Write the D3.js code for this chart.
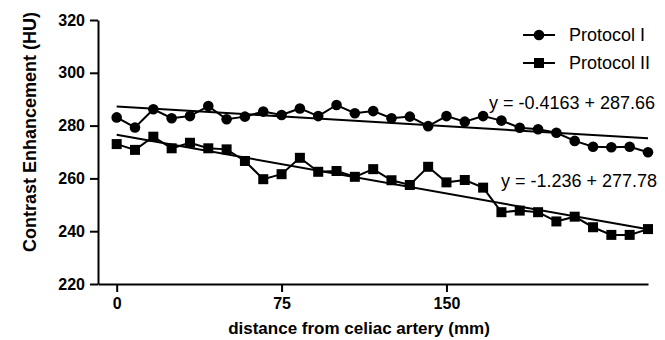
<!DOCTYPE html>
<meta charset="utf-8">
<style>
body { margin: 0; background: #fff; }
svg { font-family: "Liberation Sans", Arial, sans-serif; }
.axis path, .axis line { fill: none; stroke: #000; stroke-width: 2px; }
.axis text { font-size: 16px; font-weight: bold; fill: #000; }
</style>
<body>
<script src="https://cdn.jsdelivr.net/npm/d3@7"></script>
<script>
// distance from celiac artery (mm), one reading per segment
var distance = [0, 8.33, 16.67, 25, 33.33, 41.67, 50, 58.33, 66.67, 75,
  83.33, 91.67, 100, 108.33, 116.67, 125, 133.33, 141.67, 150, 158.33,
  166.67, 175, 183.33, 191.67, 200, 208.33, 216.67, 225, 233.33, 241.67];

var protocol1 = [283.1, 279.3, 286.2, 282.8, 283.6, 287.4, 282.4, 283.4, 285.3, 284.0,
  286.5, 283.6, 287.8, 284.7, 285.5, 282.8, 283.4, 279.8, 283.6, 281.5,
  283.6, 281.9, 279.2, 278.6, 277.3, 274.2, 272.0, 271.8, 272.0, 269.9];

var protocol2 = [273.0, 270.8, 275.8, 271.4, 273.5, 271.4, 271.0, 266.6, 259.7, 261.6,
  267.8, 262.5, 262.8, 260.6, 263.5, 259.3, 257.5, 264.4, 258.5, 259.4,
  256.5, 247.2, 247.8, 247.2, 243.7, 245.5, 241.5, 238.6, 238.6, 240.8];

// linear fits as printed on the chart (x = segment number 1..30)
var fit1 = {slope: -0.4163, intercept: 287.66, label: "y = -0.4163 + 287.66"};
var fit2 = {slope: -1.236, intercept: 277.78, label: "y = -1.236 + 277.78"};

var seriesNames = ["Protocol I", "Protocol II"];
var yTicks = [220, 240, 260, 280, 300, 320];
var xTicks = [0, 75, 150];

var width = 665, height = 340;

var svg = d3.select("body").append("svg")
    .attr("width", width)
    .attr("height", height);

var x = d3.scaleLinear().domain([-8.5, 241.67]).range([98, 648]);
var y = d3.scaleLinear().domain([220, 320]).range([284, 20]);

svg.append("g")
    .attr("class", "axis")
    .attr("transform", "translate(98,0)")
    .call(d3.axisLeft(y).tickValues(yTicks).tickSize(8).tickSizeOuter(0).tickPadding(5));

svg.append("g")
    .attr("class", "axis")
    .attr("transform", "translate(0,284)")
    .call(d3.axisBottom(x).tickValues(xTicks).tickSize(8).tickSizeOuter(0).tickPadding(6));

svg.append("text")
    .attr("x", 359)
    .attr("y", 334)
    .attr("text-anchor", "middle")
    .style("font-size", "17px")
    .style("font-weight", "bold")
    .text("distance from celiac artery (mm)");

svg.append("text")
    .attr("transform", "translate(36,132) rotate(-90)")
    .attr("text-anchor", "middle")
    .style("font-size", "18px")
    .style("font-weight", "bold")
    .text("Contrast Enhancement (HU)");

var line = d3.line()
    .x(function(d, i) { return x(distance[i]); })
    .y(function(d) { return y(d); });

function drawFit(f) {
  var n = distance.length;
  svg.append("line")
      .attr("x1", x(distance[0]))
      .attr("y1", y(f.slope * 1 + f.intercept))
      .attr("x2", x(distance[n - 1]))
      .attr("y2", y(f.slope * n + f.intercept))
      .attr("stroke", "#000")
      .attr("stroke-width", 2);
}

drawFit(fit1);
drawFit(fit2);

[protocol1, protocol2].forEach(function(vals) {
  svg.append("path")
      .datum(vals)
      .attr("d", line)
      .attr("fill", "none")
      .attr("stroke", "#000")
      .attr("stroke-width", 2);
});

svg.selectAll(".dot")
    .data(protocol1)
  .enter().append("circle")
    .attr("cx", function(d, i) { return x(distance[i]); })
    .attr("cy", function(d) { return y(d); })
    .attr("r", 5.3)
    .attr("fill", "#000");

svg.selectAll(".sq")
    .data(protocol2)
  .enter().append("rect")
    .attr("x", function(d, i) { return x(distance[i]) - 5; })
    .attr("y", function(d) { return y(d) - 5; })
    .attr("width", 10)
    .attr("height", 10)
    .attr("fill", "#000");

svg.append("text")
    .attr("x", 489)
    .attr("y", 109)
    .style("font-size", "18px")
    .text(fit1.label);

svg.append("text")
    .attr("x", 501)
    .attr("y", 187)
    .style("font-size", "18px")
    .text(fit2.label);

// legend
var legend = svg.selectAll(".legend")
    .data(seriesNames)
  .enter().append("g")
    .attr("class", "legend")
    .attr("transform", function(d, i) { return "translate(523," + (35 + i * 28) + ")"; });

legend.append("line")
    .attr("x1", 0).attr("x2", 32)
    .attr("stroke", "#000").attr("stroke-width", 2);

legend.filter(function(d, i) { return i === 0; }).append("circle")
    .attr("cx", 16).attr("r", 5.3).attr("fill", "#000");

legend.filter(function(d, i) { return i === 1; }).append("rect")
    .attr("x", 11).attr("y", -5).attr("width", 10).attr("height", 10).attr("fill", "#000");

legend.append("text")
    .attr("x", 46)
    .attr("y", 6)
    .style("font-size", "18px")
    .text(function(d) { return d; });
</script>
